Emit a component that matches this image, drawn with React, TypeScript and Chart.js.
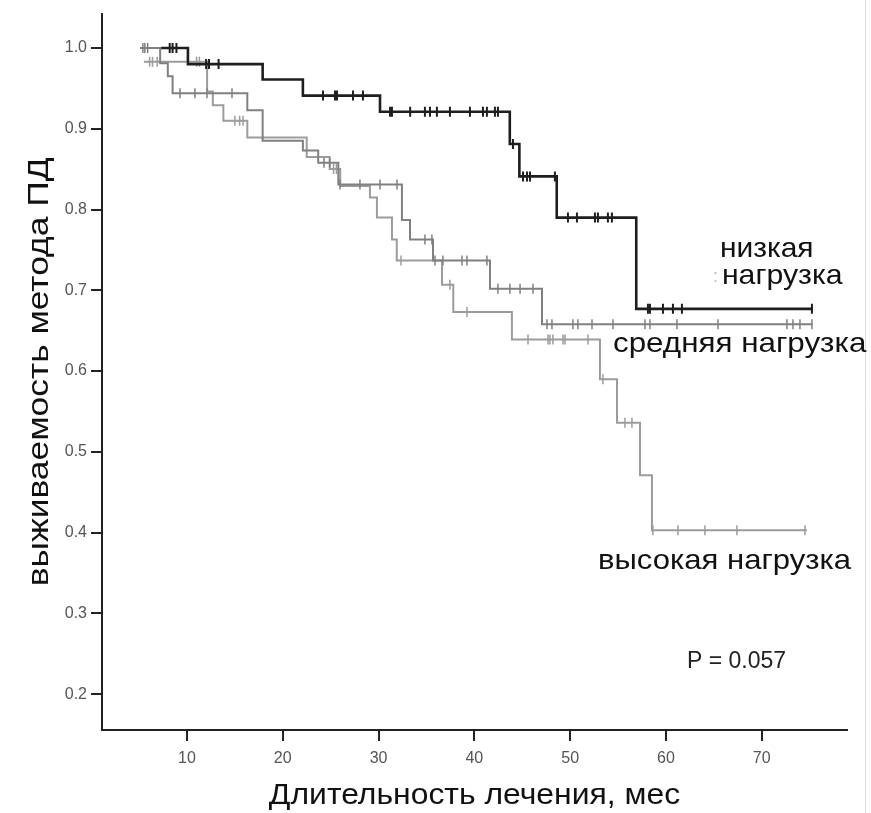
import React, { useEffect, useRef } from "react";
import { Chart, registerables } from "chart.js";

Chart.register(...registerables);

// ---- data ----
const xTicks = [10, 20, 30, 40, 50, 60, 70];
const yTicks = [0.2, 0.3, 0.4, 0.5, 0.6, 0.7, 0.8, 0.9, 1.0];

const xTitle = "Длительность лечения, мес";
const yTitle = "выживаемость метода ПД";

// низкая нагрузка
const lowTimes = [7.3, 10.1, 17.9, 22.1, 30.15, 43.7, 44.7, 48.6, 56.9, 75.3];
const lowSurv = [1.0, 0.98, 0.961, 0.941, 0.921, 0.881, 0.841, 0.79, 0.677, 0.677];
const lowCensor = [8.2, 8.5, 8.9, 12.0, 12.3, 13.3, 24.2, 25.45, 25.66, 27.33, 28.37, 31.2, 31.4, 33.3, 34.84, 35.37, 36.09, 37.45, 39.54, 40.9, 41.31, 42.15, 42.46, 44.03, 45.08, 45.5, 45.81, 48.41, 49.77, 50.71, 52.59, 52.9, 53.94, 54.36, 58.12, 58.33, 59.69, 60.73, 61.67, 75.24];

// средняя нагрузка
const midTimes = [5.1, 7.2, 8.0, 8.5, 16.3, 17.9, 22.1, 23.7, 25.8, 32.44, 33.28, 35.68, 41.63, 47.06, 75.3];
const midSurv = [1.0, 0.981, 0.965, 0.944, 0.923, 0.885, 0.873, 0.858, 0.831, 0.787, 0.763, 0.737, 0.702, 0.658, 0.658];
const midCensor = [5.4, 5.6, 5.9, 9.27, 10.83, 12.09, 14.7, 24.3, 24.9, 25.97, 28.06, 30.15, 31.92, 34.84, 35.57, 35.89, 36.72, 38.71, 39.23, 41.31, 42.46, 43.71, 44.77, 46.12, 47.58, 48.1, 50.29, 50.81, 52.28, 54.47, 57.81, 58.33, 61.15, 65.43, 72.63, 73.26, 73.99, 75.24];

// высокая нагрузка
const highTimes = [5.5, 12.1, 12.7, 13.8, 16.3, 22.5, 24.9, 26.0, 29.1, 29.83, 31.4, 31.9, 36.62, 37.8, 43.92, 53.11, 54.89, 57.29, 58.54, 74.72];
const highSurv = [0.983, 0.946, 0.929, 0.91, 0.889, 0.865, 0.85, 0.829, 0.815, 0.79, 0.763, 0.737, 0.707, 0.673, 0.639, 0.59, 0.536, 0.471, 0.403, 0.403];
const highCensor = [6.1, 6.4, 6.9, 11.0, 11.3, 15.0, 15.5, 15.85, 25.3, 25.6, 32.34, 37.45, 39.23, 45.6, 47.69, 47.89, 48.2, 49.25, 49.46, 51.86, 53.42, 55.72, 56.45, 58.64, 61.25, 64.07, 67.41, 74.51];

// annotation texts
const labelLow1 = "низкая";
const labelLow2 = "нагрузка";
const labelMid = "средняя нагрузка";
const labelHigh = "высокая нагрузка";
const pText = "P = 0.057";

const SANS = "'Liberation Sans', Arial, sans-serif";

function stepValue(times: number[], surv: number[], t: number) {
  let v = surv[0];
  for (let i = 0; i < times.length; i++) {
    if (t >= times[i]) v = surv[i];
  }
  return v;
}

function curve(times: number[], surv: number[]) {
  return times.map((t, i) => ({ x: t, y: surv[i] }));
}

function censors(times: number[], surv: number[], c: number[]) {
  return c.map((t) => ({ x: t, y: stepValue(times, surv, t) }));
}

function stretchedText(ctx: CanvasRenderingContext2D, text: string, x: number, y: number, sx: number, align: CanvasTextAlign) {
  ctx.save();
  ctx.translate(x, y);
  ctx.scale(sx, 1);
  ctx.textAlign = align;
  ctx.fillText(text, 0, 0);
  ctx.restore();
}

const annotationPlugin = {
  id: "kmText",
  afterDraw(chart: any) {
    const { ctx, chartArea, scales } = chart;
    const x = scales.x;
    const y = scales.y;
    ctx.save();
    // faint scan border on the right
    ctx.strokeStyle = "#dcdcdc";
    ctx.lineWidth = 1;
    ctx.beginPath();
    ctx.moveTo(865.5, 0);
    ctx.lineTo(865.5, 813);
    ctx.stroke();

    ctx.fillStyle = "#111";
    ctx.textBaseline = "alphabetic";
    // x title
    ctx.font = `29px ${SANS}`;
    stretchedText(ctx, xTitle, (chartArea.left + chartArea.right) / 2, 804, 1.1, "center");
    // y title
    ctx.save();
    ctx.translate(48, (chartArea.top + chartArea.bottom) / 2);
    ctx.rotate(-Math.PI / 2);
    ctx.font = `30px ${SANS}`;
    stretchedText(ctx, yTitle, 0, 0, 1.18, "center");
    ctx.restore();

    // curve labels
    ctx.font = `28px ${SANS}`;
    stretchedText(ctx, labelLow1, x.getPixelForValue(65.63), y.getPixelForValue(0.741), 1.07, "left");
    stretchedText(ctx, labelLow2, x.getPixelForValue(65.84), y.getPixelForValue(0.708), 1.08, "left");
    stretchedText(ctx, labelMid, x.getPixelForValue(54.47), y.getPixelForValue(0.624), 1.12, "left");
    stretchedText(ctx, labelHigh, x.getPixelForValue(52.9), y.getPixelForValue(0.355), 1.11, "left");
    ctx.fillStyle = "#bbb";
    ctx.font = `18px ${SANS}`;
    ctx.textAlign = "left";
    ctx.fillText(":", x.getPixelForValue(64.9), y.getPixelForValue(0.71));
    ctx.fillStyle = "#222";
    ctx.font = `23px ${SANS}`;
    ctx.fillText(pText, x.getPixelForValue(62.2), y.getPixelForValue(0.232));
    ctx.restore();
  },
};

export default function App() {
  const ref = useRef<HTMLCanvasElement | null>(null);

  useEffect(() => {
    document.body.style.margin = "0";
    const canvas = ref.current;
    if (!canvas) return;
    const lineDs = (data: any, color: string, width: number) => ({
      type: "line" as const,
      data,
      borderColor: color,
      borderWidth: width,
      stepped: "before" as const,
      pointRadius: 0,
      fill: false,
      tension: 0,
    });
    const censDs = (data: any, color: string, width: number) => ({
      type: "scatter" as const,
      data,
      borderColor: color,
      backgroundColor: color,
      pointStyle: "line" as const,
      rotation: 90,
      pointRadius: 5,
      borderWidth: width,
      showLine: false,
    });
    const chart = new Chart(canvas, {
      type: "line",
      data: {
        datasets: [
          lineDs(curve(lowTimes, lowSurv), "#1e1e1e", 2.6),
          censDs(censors(lowTimes, lowSurv, lowCensor), "#1e1e1e", 2),
          lineDs(curve(midTimes, midSurv), "#808080", 2),
          censDs(censors(midTimes, midSurv, midCensor), "#808080", 1.5),
          lineDs(curve(highTimes, highSurv), "#9c9c9c", 2),
          censDs(censors(highTimes, highSurv, highCensor), "#9c9c9c", 1.5),
        ] as any,
      },
      options: {
        responsive: false,
        animation: false,
        devicePixelRatio: 1,
        layout: { padding: { top: 10, right: 24, left: 0, bottom: 0 } },
        plugins: { legend: { display: false }, tooltip: { enabled: false } },
        scales: {
          x: {
            type: "linear",
            position: "bottom",
            min: 1.13,
            max: 78.9,
            afterFit: (s: any) => {
              s.height = 83;
            },
            afterBuildTicks: (s: any) => {
              s.ticks = xTicks.map((v) => ({ value: v }));
            },
            grid: {
              display: true,
              drawOnChartArea: false,
              drawTicks: true,
              tickLength: 11,
              color: "#222",
              tickColor: "#222",
              lineWidth: 2,
            },
            border: { display: true, color: "#222", width: 2 },
            ticks: {
              color: "#555",
              font: { size: 16, family: SANS },
              padding: 8,
              maxRotation: 0,
              autoSkip: false,
            },
          },
          y: {
            type: "linear",
            min: 0.1557,
            max: 1.0425,
            afterFit: (s: any) => {
              s.width = 102;
            },
            afterBuildTicks: (s: any) => {
              s.ticks = yTicks.map((v) => ({ value: v }));
            },
            grid: {
              display: true,
              drawOnChartArea: false,
              drawTicks: true,
              tickLength: 11,
              color: "#222",
              tickColor: "#222",
              lineWidth: 2,
            },
            border: { display: true, color: "#222", width: 2 },
            ticks: {
              color: "#555",
              font: { size: 16, family: SANS },
              padding: 4,
              autoSkip: false,
              callback: (v: any) => Number(v).toFixed(1),
            },
          },
        },
      },
      plugins: [annotationPlugin],
    });
    return () => chart.destroy();
  }, []);

  return (
    <div style={{ position: "fixed", left: 0, top: 0, width: 871, height: 813, background: "#fff" }}>
      <canvas ref={ref} width={871} height={813} style={{ display: "block" }} />
    </div>
  );
}
